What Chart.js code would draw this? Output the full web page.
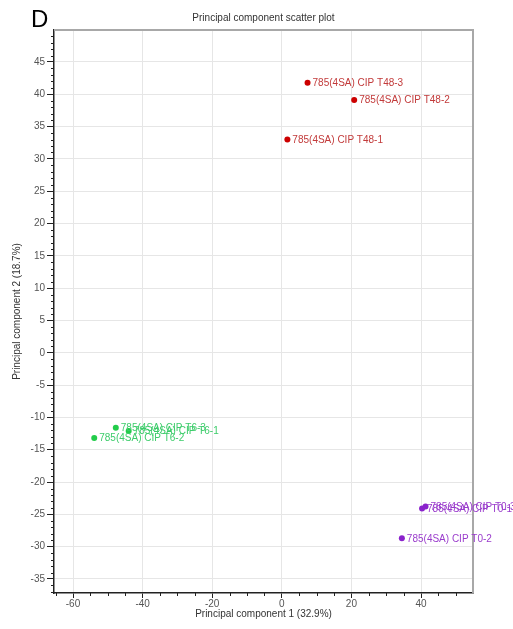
<!DOCTYPE html>
<html>
<head>
<meta charset="utf-8">
<script src="https://cdn.jsdelivr.net/npm/chart.js@4/dist/chart.umd.min.js"></script>
<style>
  html, body { margin: 0; padding: 0; background: #ffffff; }
  #wrap { width: 513px; height: 629px; }
</style>
</head>
<body>
<div id="wrap"><canvas id="c" width="513" height="629"></canvas></div>
<script>
// PCA scores: sample names and their coordinates on PC1 / PC2
const t48Names = ['785(4SA) CIP T48-1', '785(4SA) CIP T48-2', '785(4SA) CIP T48-3'];
const t48PC1 = [1.6, 20.8, 7.4];
const t48PC2 = [33.0, 39.1, 41.8];

const t6Names = ['785(4SA) CIP T6-1', '785(4SA) CIP T6-2', '785(4SA) CIP T6-3'];
const t6PC1 = [-44.0, -53.9, -47.7];
const t6PC2 = [-12.1, -13.2, -11.6];

const t0Names = ['785(4SA) CIP T0-1', '785(4SA) CIP T0-2', '785(4SA) CIP T0-3'];
const t0PC1 = [40.3, 34.5, 41.3];
const t0PC2 = [-24.1, -28.7, -23.8];

const xTickValues = [-60, -40, -20, 0, 20, 40];
const yTickValues = [-35, -30, -25, -20, -15, -10, -5, 0, 5, 10, 15, 20, 25, 30, 35, 40, 45];

const toPoints = (xs, ys) => xs.map((x, i) => ({ x: x, y: ys[i] }));

const FONT = 'Liberation Sans, Arial, sans-serif';

// Point name labels, minor ticks, frame, title and panel letter
const decorations = {
  id: 'decorations',
  afterDraw(chart) {
    const ctx = chart.ctx;
    const area = chart.chartArea;
    const xs = chart.scales.x, ys = chart.scales.y;
    ctx.save();

    // grey frame on top and right
    ctx.strokeStyle = '#a8a8a8';
    ctx.lineWidth = 2;
    ctx.beginPath();
    ctx.moveTo(area.left, area.top);
    ctx.lineTo(area.right, area.top);
    ctx.lineTo(area.right, area.bottom);
    ctx.stroke();

    // minor ticks
    ctx.strokeStyle = '#222';
    ctx.lineWidth = 1;
    ctx.beginPath();
    for (let v = Math.ceil(ys.min); v <= ys.max; v++) {
      if (v % 5 === 0) continue;
      const py = Math.round(ys.getPixelForValue(v)) + 0.5;
      ctx.moveTo(area.left - 3, py);
      ctx.lineTo(area.left, py);
    }
    for (let v = Math.ceil(xs.min / 5) * 5; v <= xs.max; v += 5) {
      if (v % 20 === 0) continue;
      const px = Math.round(xs.getPixelForValue(v)) + 0.5;
      ctx.moveTo(px, area.bottom);
      ctx.lineTo(px, area.bottom + 3);
    }
    ctx.stroke();

    // sample labels next to each point
    ctx.font = '10px ' + FONT;
    ctx.textAlign = 'left';
    ctx.textBaseline = 'middle';
    chart.data.datasets.forEach((ds, di) => {
      const meta = chart.getDatasetMeta(di);
      ctx.fillStyle = ds.labelColor;
      meta.data.forEach((el, i) => {
        ctx.fillText(ds.names[i], el.x + 5, el.y + 0.5);
      });
    });

    // chart title
    ctx.fillStyle = '#333';
    ctx.font = '10px ' + FONT;
    ctx.textAlign = 'center';
    ctx.textBaseline = 'middle';
    ctx.fillText('Principal component scatter plot', (area.left + area.right) / 2, 18);

    // panel letter
    ctx.fillStyle = '#000';
    ctx.font = '24px ' + FONT;
    ctx.textAlign = 'left';
    ctx.textBaseline = 'alphabetic';
    ctx.fillText('D', 31, 27);

    ctx.restore();
  }
};

new Chart(document.getElementById('c'), {
  type: 'scatter',
  data: {
    datasets: [
      {
        label: 'T48',
        names: t48Names,
        data: toPoints(t48PC1, t48PC2),
        backgroundColor: '#cc0000',
        borderColor: '#cc0000',
        labelColor: '#c23a3a'
      },
      {
        label: 'T6',
        names: t6Names,
        data: toPoints(t6PC1, t6PC2),
        backgroundColor: '#22cc4a',
        borderColor: '#22cc4a',
        labelColor: '#3ccc6a'
      },
      {
        label: 'T0',
        names: t0Names,
        data: toPoints(t0PC1, t0PC2),
        backgroundColor: '#8a22cc',
        borderColor: '#8a22cc',
        labelColor: '#9a3ccc'
      }
    ]
  },
  options: {
    responsive: false,
    animation: false,
    layout: { padding: { top: 30, right: 40, left: 0, bottom: 0 } },
    elements: { point: { radius: 3, borderWidth: 0 } },
    plugins: {
      legend: { display: false },
      tooltip: { enabled: false },
      title: { display: false }
    },
    scales: {
      x: {
        type: 'linear',
        min: -65.46,
        max: 54.94,
        afterFit(scale) { scale.height = 36; },
        afterBuildTicks(scale) { scale.ticks = xTickValues.map(v => ({ value: v })); },
        ticks: {
          color: '#555',
          font: { family: FONT, size: 10 },
          padding: 0,
          maxRotation: 0
        },
        grid: { color: '#e6e6e6', tickColor: '#222', tickLength: 5, lineWidth: 1 },
        border: { color: '#222', width: 1.5 },
        title: {
          display: true,
          text: 'Principal component 1 (32.9%)',
          color: '#333',
          font: { family: FONT, size: 10 },
          padding: { top: 0, bottom: 9 }
        }
      },
      y: {
        type: 'linear',
        min: -37.17,
        max: 49.95,
        afterFit(scale) { scale.width = 54; },
        afterBuildTicks(scale) { scale.ticks = yTickValues.map(v => ({ value: v })); },
        ticks: {
          color: '#555',
          font: { family: FONT, size: 10 },
          padding: 2
        },
        grid: { color: '#e6e6e6', tickColor: '#222', tickLength: 7, lineWidth: 1 },
        border: { color: '#222', width: 1.5 },
        title: {
          display: true,
          text: 'Principal component 2 (18.7%)',
          color: '#333',
          font: { family: FONT, size: 10 },
          padding: { top: 11, bottom: 0 }
        }
      }
    }
  },
  plugins: [decorations]
});
</script>
</body>
</html>
